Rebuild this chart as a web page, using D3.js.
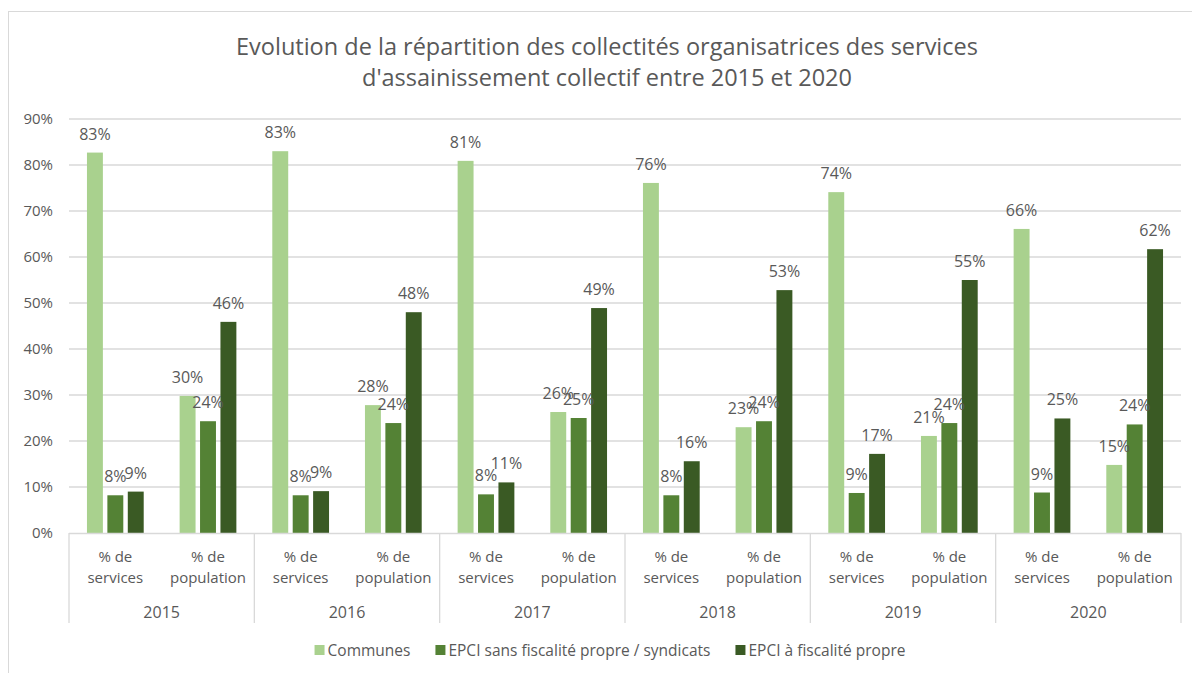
<!DOCTYPE html>
<html>
<head>
<meta charset="utf-8">
<style>
  body { margin: 0; background: #fff; }
  svg text { font-family: "Open Sans", "Noto Sans", sans-serif; fill: #595959; }
</style>
</head>
<body>
<div id="chart"></div>
<script src="https://d3js.org/d3.v7.min.js"></script>
<script>
// categories
const years = ['2015', '2016', '2017', '2018', '2019', '2020'];
const measures = ['% de services', '% de population'];
const seriesNames = ['Communes', 'EPCI sans fiscalité propre / syndicats', 'EPCI à fiscalité propre'];

// values in %, order: year x measure
const communes = [82.7, 29.8, 83.0, 27.8, 80.9, 26.3, 76.1, 23.0, 74.1, 21.1, 66.1, 14.8];
const epciSans = [8.2, 24.3, 8.2, 23.9, 8.4, 25.0, 8.2, 24.3, 8.7, 23.9, 8.8, 23.6];
const epciFisc = [9.0, 45.9, 9.1, 48.0, 11.0, 48.9, 15.6, 52.8, 17.2, 55.0, 24.9, 61.7];

const yTicks = [0, 10, 20, 30, 40, 50, 60, 70, 80, 90];
const colors = ['#a9d18e', '#548235', '#3a5a24'];

const width = 1192, height = 673;
const margin = { top: 119, right: 9, bottom: 140, left: 69 };

const svg = d3.select('#chart').append('svg')
  .attr('width', width)
  .attr('height', height);

// chart border
svg.append('rect')
  .attr('x', 8.5).attr('y', 11.5)
  .attr('width', 1200).attr('height', 700)
  .attr('fill', 'none')
  .attr('stroke', '#d9d9d9');

// title
svg.append('text')
  .attr('x', 607).attr('y', 55)
  .attr('text-anchor', 'middle')
  .style('font-size', '23.5px')
  .text('Evolution de la répartition des collectités organisatrices des services');
svg.append('text')
  .attr('x', 607).attr('y', 86)
  .attr('text-anchor', 'middle')
  .style('font-size', '23.5px')
  .text("d'assainissement  collectif entre 2015 et 2020");

// build the category keys
const cats = [];
years.forEach(y => measures.forEach(m => cats.push(y + '|' + m)));

const data = cats.map((c, i) => ({
  key: c,
  values: [communes[i], epciSans[i], epciFisc[i]]
}));

const x0 = d3.scaleBand()
  .domain(cats)
  .range([margin.left, width - margin.right - 2]);

const x1 = d3.scaleBand()
  .domain(d3.range(seriesNames.length))
  .range([0, x0.bandwidth()])
  .paddingInner(0.22)
  .paddingOuter(0.88);

const y = d3.scaleLinear()
  .domain([0, 90])
  .range([533, 119]);

// gridlines
svg.append('g')
  .selectAll('line')
  .data(yTicks.slice(1))
  .join('line')
  .attr('x1', x0.range()[0]).attr('x2', x0.range()[1])
  .attr('y1', d => y(d)).attr('y2', d => y(d))
  .attr('stroke', '#d9d9d9')
  .attr('stroke-width', 1.3);

// y axis labels
const yAxis = d3.axisLeft(y)
  .tickValues(yTicks)
  .tickFormat(d => d + '%')
  .tickSize(0)
  .tickPadding(16);
const gy = svg.append('g')
  .attr('transform', `translate(${margin.left}, 0)`)
  .call(yAxis);
gy.select('.domain').remove();
gy.selectAll('text')
  .style('font-size', '15px')
  .attr('fill', '#595959');

// bars
const groups = svg.append('g')
  .selectAll('g')
  .data(data)
  .join('g')
  .attr('transform', d => `translate(${x0(d.key)}, 0)`);

groups.selectAll('rect')
  .data(d => d.values)
  .join('rect')
  .attr('x', (d, i) => x1(i))
  .attr('y', d => y(d))
  .attr('width', x1.bandwidth())
  .attr('height', d => y(0) - y(d))
  .attr('fill', (d, i) => colors[i]);

// data labels
groups.selectAll('text')
  .data(d => d.values)
  .join('text')
  .attr('x', (d, i) => x1(i) + x1.bandwidth() / 2)
  .attr('y', d => y(d) - 13)
  .attr('text-anchor', 'middle')
  .style('font-size', '16px')
  .text(d => Math.round(d) + '%');

// category axis
const axisG = svg.append('g');
axisG.append('line')
  .attr('x1', x0.range()[0]).attr('x2', x0.range()[1])
  .attr('y1', 533.5).attr('y2', 533.5)
  .attr('stroke', '#d9d9d9')
  .attr('stroke-width', 1.3);

const yearScale = d3.scaleBand()
  .domain(years)
  .range(x0.range());

const seps = years.map(yr => yearScale(yr)).concat([x0.range()[1]]);
axisG.selectAll('line.sep')
  .data(seps)
  .join('line')
  .attr('class', 'sep')
  .attr('x1', d => d).attr('x2', d => d)
  .attr('y1', 533).attr('y2', 623)
  .attr('stroke', '#d9d9d9')
  .attr('stroke-width', 1.3);

const catLabels = axisG.selectAll('text.cat')
  .data(cats)
  .join('text')
  .attr('class', 'cat')
  .attr('text-anchor', 'middle')
  .style('font-size', '15px');
catLabels.append('tspan')
  .attr('x', d => x0(d) + x0.bandwidth() / 2)
  .attr('y', 562)
  .text(d => d.split('|')[1].split(' ').slice(0, 2).join(' '));
catLabels.append('tspan')
  .attr('x', d => x0(d) + x0.bandwidth() / 2)
  .attr('y', 583)
  .text(d => d.split('|')[1].split(' ').slice(2).join(' '));

axisG.selectAll('text.year')
  .data(years)
  .join('text')
  .attr('class', 'year')
  .attr('x', d => yearScale(d) + yearScale.bandwidth() / 2)
  .attr('y', 618)
  .attr('text-anchor', 'middle')
  .style('font-size', '16px')
  .text(d => d);

// legend
const legend = svg.append('g');
const items = legend.selectAll('g')
  .data(seriesNames)
  .join('g');
items.append('rect')
  .attr('width', 10).attr('height', 10)
  .attr('y', 645)
  .attr('fill', (d, i) => colors[i]);
items.append('text')
  .attr('x', 13)
  .attr('y', 655.5)
  .style('font-size', '15.5px')
  .text(d => d);

// lay out legend items in a centered row
let lx = 0;
const offsets = [];
items.each(function () {
  offsets.push(lx);
  lx += 13 + d3.select(this).select('text').node().getComputedTextLength() + 25;
});
const total = lx - 25;
const start = 610 - total / 2;
items.attr('transform', (d, i) => `translate(${start + offsets[i]}, 0)`);
</script>
</body>
</html>
